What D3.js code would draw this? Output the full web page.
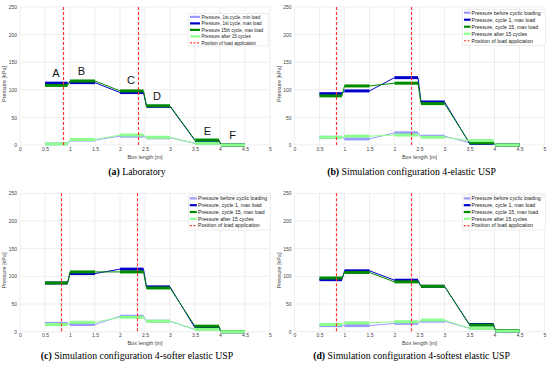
<!DOCTYPE html>
<html><head><meta charset="utf-8">
<script src="https://cdn.jsdelivr.net/npm/d3@7"></script>
<style>
html,body{margin:0;padding:0;background:#fff;}
svg{display:block;}
</style></head>
<body>
<svg id="chart" width="550" height="367"></svg>
<script>
// ---- data ----
const segStart = [0.5, 1.0, 2.0, 2.53, 3.5, 4.02];
const segEnd   = [0.95, 1.5, 2.47, 3.0, 3.98, 4.5];
const xTicks = [0, 0.5, 1, 1.5, 2, 2.5, 3, 3.5, 4, 4.5, 5];
const yTicks = [0, 50, 100, 150, 200, 250];

// (a) Laboratory
const labMin   = [2, 9, 16, 13, 3, 0];
const labMax1  = [112, 113, 95, 70, 8, 0];
const labMax15 = [108, 116, 98, 71, 9, 0];
const labAfter = [2, 10, 18, 14, 3, 0];
const labLoadPos = [0.85, 2.35];
const labLetters = ["A", "B", "C", "D", "E", "F"];
const labLetterX = [0.72, 1.23, 2.22, 2.74, 3.75, 4.25];
const labLetterY = [131, 134, 117, 89, 26, 18];

// (b) 4-elastic USP
const elBefore = [14, 11, 22, 16, 4, 0];
const elMax1   = [93, 98, 122, 78, 3, 0];
const elMax15  = [89, 107, 112, 75, 4, 0];
const elAfter  = [14, 16, 18, 14, 8, 0];

// (c) 4-softer elastic USP
const sfBefore = [15, 13, 28, 19, 4, 0];
const sfMax1   = [88, 105, 113, 81, 7, 0];
const sfMax15  = [88, 108, 108, 79, 10, 0];
const sfAfter  = [13, 17, 26, 19, 4, 0];

// (d) 4-softest elastic USP
const stBefore = [11, 11, 15, 19, 6, 1];
const stMax1   = [94, 110, 93, 82, 13, 1];
const stMax15  = [97, 107, 90, 82, 12, 2];
const stAfter  = [13, 16, 18, 21, 6, 1];

const simLoadPos = [0.83, 2.33];

const labNames = ["Pressure, 1st cycle, min load", "Pressure, 1st cycle, max load",
  "Pressure 15th cycle, max load", "Pressure after 15 cycles", "Position of load application"];
const simNames = ["Pressure before cyclic loading", "Pressure, cycle 1, max load",
  "Pressure, cycle 15, max load", "Pressure after 15 cycles", "Position of load application"];
const seriesColors = ["#9b9bff", "#0000c8", "#008a00", "#8cff8c"];
const loadColor = "#ff3333";

const captionsTag = ["(a)", "(b)", "(c)", "(d)"];
const captionsText = [" Laboratory", " Simulation configuration 4-elastic USP",
  " Simulation configuration 4-softer elastic USP", " Simulation configuration 4-softest elastic USP"];

// ---- layout ----
const panels = [
  {left: 20, right: 270, top: 7, bottom: 145, series: [labMin, labMax1, labMax15, labAfter], names: labNames, load: labLoadPos,
   leg: {x: 188, y: 13.5, w: 80, h: 32.5, dy: 6.5, fs: 4.6, lx0: 190, lx1: 200, tx: 201.5}, letters: true, capY: 175},
  {left: 294.5, right: 544.5, top: 7, bottom: 145, series: [elBefore, elMax1, elMax15, elAfter], names: simNames, load: simLoadPos,
   leg: {x: 462.5, y: 9.3, w: 83, h: 36.4, dy: 7, fs: 5.2, lx0: 464, lx1: 470.5, tx: 471.5}, capY: 175},
  {left: 20, right: 270, top: 193.3, bottom: 331.7, series: [sfBefore, sfMax1, sfMax15, sfAfter], names: simNames, load: simLoadPos,
   leg: {x: 188.3, y: 195, w: 82.4, h: 35, dy: 6.8, fs: 5.2, lx0: 189.8, lx1: 196.8, tx: 198}, capY: 359},
  {left: 294.5, right: 544.5, top: 193.3, bottom: 331.7, series: [stBefore, stMax1, stMax15, stAfter], names: simNames, load: simLoadPos,
   leg: {x: 462.3, y: 195, w: 83.4, h: 35, dy: 6.8, fs: 5.2, lx0: 463.8, lx1: 470.5, tx: 471.5}, capY: 359}
];

const svg = d3.select("#chart");
const sans = "'Liberation Sans', Arial, sans-serif";
const serif = "'Liberation Serif', 'Times New Roman', serif";

panels.forEach((p, pi) => {
  const x = d3.scaleLinear().domain([0, 5]).range([p.left, p.right]);
  const y = d3.scaleLinear().domain([0, 250]).range([p.bottom, p.top]);
  const g = svg.append("g");

  // grid
  g.append("g").selectAll("line").data(xTicks).join("line")
    .attr("x1", d => x(d)).attr("x2", d => x(d)).attr("y1", p.top).attr("y2", p.bottom)
    .attr("stroke", "#e3e3e3").attr("stroke-width", 0.6);
  g.append("g").selectAll("line").data(yTicks).join("line")
    .attr("x1", p.left).attr("x2", p.right).attr("y1", d => y(d)).attr("y2", d => y(d))
    .attr("stroke", "#e3e3e3").attr("stroke-width", 0.6);

  // axes (labels only)
  const xa = g.append("g").attr("transform", `translate(0,${p.bottom})`)
    .call(d3.axisBottom(x).tickValues(xTicks).tickSize(0).tickPadding(2).tickFormat(d3.format("~g")));
  xa.select(".domain").remove();
  xa.selectAll("text").attr("font-family", sans).attr("font-size", 5).attr("fill", "#444");
  const ya = g.append("g").attr("transform", `translate(${p.left},0)`)
    .call(d3.axisLeft(y).tickValues(yTicks).tickSize(0).tickPadding(3));
  ya.select(".domain").remove();
  ya.selectAll("text").attr("font-family", sans).attr("font-size", 5).attr("fill", "#444");

  g.append("text").attr("x", (p.left + p.right) / 2).attr("y", p.bottom + 13.5)
    .attr("text-anchor", "middle").attr("font-family", sans).attr("font-size", 5.5).attr("fill", "#444")
    .text("Box length [m]");
  g.append("text").attr("transform", `translate(${p.left - 14},${(p.top + p.bottom) / 2 + 8}) rotate(-90)`)
    .attr("text-anchor", "middle").attr("font-family", sans).attr("font-size", 5.5).attr("fill", "#444")
    .text("Pressure [kPa]");

  // series
  p.series.forEach((vals, si) => {
    const pts = [];
    vals.forEach((v, k) => { pts.push([segStart[k], v]); pts.push([segEnd[k], v]); });
    const line = d3.line().x(d => x(d[0])).y(d => y(d[1]));
    g.append("path").attr("d", line(pts)).attr("fill", "none")
      .attr("stroke", seriesColors[si]).attr("stroke-width", 1);
    g.append("g").selectAll("line").data(vals).join("line")
      .attr("x1", (d, k) => x(segStart[k])).attr("x2", (d, k) => x(segEnd[k]))
      .attr("y1", d => y(d)).attr("y2", d => y(d))
      .attr("stroke", seriesColors[si]).attr("stroke-width", 3);
  });

  // load positions
  g.append("g").selectAll("line").data(p.load).join("line")
    .attr("x1", d => Math.round(x(d)) + 0.5).attr("x2", d => Math.round(x(d)) + 0.5)
    .attr("y1", p.top).attr("y2", p.bottom)
    .attr("stroke", loadColor).attr("stroke-width", 1.2).attr("stroke-dasharray", "3,2");

  // letters
  if (p.letters) {
    g.append("g").selectAll("text").data(labLetters).join("text")
      .attr("x", (d, k) => x(labLetterX[k])).attr("y", (d, k) => y(labLetterY[k]) + 4)
      .attr("text-anchor", "middle").attr("font-family", sans).attr("font-size", 11).attr("fill", "#111")
      .text(d => d);
  }

  // legend
  const L = p.leg;
  g.append("rect").attr("x", L.x).attr("y", L.y).attr("width", L.w).attr("height", L.h)
    .attr("fill", "#fff").attr("stroke", "#e0e0e0").attr("stroke-width", 0.6);
  p.names.forEach((nm, k) => {
    const yy = L.y + 3.4 + L.dy * k;
    const isLoad = k === 4;
    g.append("line").attr("x1", L.lx0).attr("x2", L.lx1).attr("y1", yy).attr("y2", yy)
      .attr("stroke", isLoad ? loadColor : seriesColors[k])
      .attr("stroke-width", isLoad ? 1.1 : 2.2)
      .attr("stroke-dasharray", isLoad ? "2,1.5" : null);
    g.append("text").attr("x", L.tx).attr("y", yy + L.fs * 0.36)
      .attr("font-family", sans).attr("font-size", L.fs).attr("fill", "#222").text(nm);
  });

  // caption
  const cap = svg.append("text").attr("x", (p.left + p.right) / 2 - 8).attr("y", p.capY)
    .attr("text-anchor", "middle").attr("font-family", serif).attr("font-size", 9.8).attr("fill", "#000");
  cap.append("tspan").attr("font-weight", "bold").text(captionsTag[pi]);
  cap.append("tspan").text(captionsText[pi]);
});
</script>
</body></html>
